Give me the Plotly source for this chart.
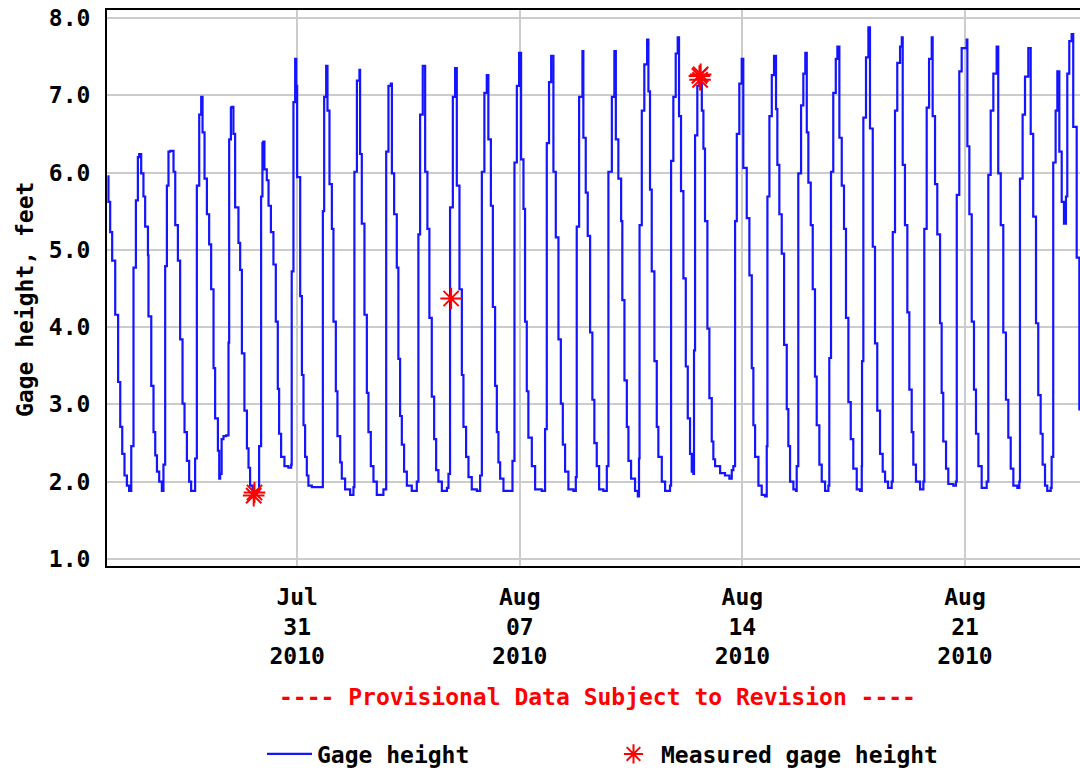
import pandas as pd
import plotly.graph_objects as go

# ---------------- data ----------------
START = "2010-07-25 00:00"

# hours since START for each gage reading (stair-step vertices)
hours = [
    0.9, 1.6, 2.9, 4.4, 6.7, 8.9, 10.5, 12.0, 13.7, 15.5, 17.2, 18.8, 20.5, 22.3, 23.8, 24.8,
    26.3, 28.0, 29.3, 31.4, 31.8, 33.9, 35.6, 36.9, 38.2, 39.9, 41.9, 43.1, 44.4, 45.7, 46.9, 48.2,
    50.7, 52.0, 54.0, 55.7, 57.5, 59.0, 60.8, 62.5, 64.0, 65.8, 67.0, 68.3, 70.1, 71.6,
    72.6, 74.1, 75.9, 77.6, 79.1, 80.9, 82.1, 84.2, 85.2, 85.9, 87.0, 88.4, 90.4, 92.2, 92.7, 94.0, 94.7,
    95.9, 97.2, 99.7, 101.0, 102.3, 104.2, 106.1, 107.3, 108.5, 110.4, 113.8, 115.3, 116.8, 117.8, 118.4,
    119.3, 121.1, 122.4, 124.2, 126.1, 127.9, 129.4, 130.4, 131.9, 134.4, 137.4, 139.5, 139.9, 141.2, 142.5,
    143.3, 144.0, 146.3, 147.6, 148.8, 150.0, 151.3, 152.5, 155.1, 162.6, 163.4, 164.4, 165.9,
    166.9, 168.4, 170.2, 171.4, 173.2, 174.4, 176.5, 177.7, 180.2, 184.0, 186.5, 187.2, 189.1, 191.0,
    191.5, 192.8, 194.8, 196.6, 197.8, 199.6, 201.6, 204.1, 209.1, 211.2, 212.9, 214.7,
    215.5, 217.2, 219.2, 220.4, 221.7, 223.0, 224.7, 226.8, 230.5, 234.3, 235.5, 236.8, 238.8,
    240.6, 242.3, 243.8, 245.6, 247.4, 248.9, 250.6, 253.2, 257.0, 258.2, 259.4, 261.5, 263.2,
    264.5, 266.5, 268.3, 269.5, 271.5, 273.3, 275.8, 279.6, 282.1, 283.4, 285.3, 287.1,
    288.3, 290.2, 291.7, 293.4, 294.7, 295.9, 297.2, 299.7, 304.7, 306.5, 308.0, 309.8, 311.5,
    313.0, 314.8, 316.0, 317.3, 318.5, 321.1, 323.6, 328.6, 331.1, 332.4, 334.1, 335.7,
    337.4, 339.2, 341.2, 343.0, 344.5, 346.2, 348.7, 352.5, 354.3, 355.0, 356.8, 359.3,
    360.0, 361.8, 363.3, 365.1, 366.8, 368.3, 370.1, 371.9, 375.1, 377.7, 378.9, 381.5, 383.4,
    384.5, 386.4, 388.5, 389.4, 391.0, 392.8, 394.0, 396.0, 399.0, 401.1, 402.0, 402.4, 404.1, 406.0, 408.1,
    409.1, 410.3, 411.6, 413.6, 415.4, 416.6, 419.2, 421.7, 425.4, 426.2, 427.9, 429.7, 431.2,
    432.2, 433.7, 435.5, 437.3, 438.8, 440.5, 441.8, 442.4, 443.0, 443.5, 444.3, 446.0, 447.5,
    449.4, 450.6, 451.8, 453.6, 455.1, 456.9, 458.1, 459.4, 463.2, 466.9, 470.2, 472.0, 473.2, 474.5, 475.8, 477.7, 479.5,
    480.7, 483.3, 485.3, 487.1, 488.3, 489.6, 492.1, 494.6, 497.1, 498.4, 498.9, 500.4, 502.2, 503.9,
    505.4, 506.4, 507.9, 509.7, 511.5, 513.5, 514.7, 516.0, 518.5, 520.5, 521.0, 522.2, 524.3, 526.0, 527.5,
    528.6, 529.8, 531.6, 533.1, 534.8, 536.1, 538.1, 539.9, 542.4, 544.9, 545.6, 546.9, 548.6, 550.5, 551.7,
    553.2, 555.0, 556.7, 558.2, 560.0, 561.8, 563.7, 566.3, 568.8, 570.1, 570.3, 571.3, 573.3, 575.1,
    576.3, 578.4, 580.1, 581.8, 583.9, 585.9, 587.7, 589.9, 592.7, 593.5, 595.2, 596.9, 599.0, 600.3,
    601.0, 602.7, 604.5, 606.0, 607.8, 609.0, 611.0, 614.1, 616.6, 617.3, 619.1, 620.9, 622.9,
    623.6, 625.4, 627.1, 629.2, 630.4, 631.6, 633.7, 635.4, 639.2, 641.2, 641.8, 643.7, 645.5, 649.3,
    649.8, 651.3, 653.1, 654.8, 656.3, 658.1, 660.6, 664.4, 665.6, 667.4, 669.4, 671.9,
    673.1, 675.0, 676.9, 678.9, 680.7, 682.5, 684.5, 687.5, 689.0, 689.5, 691.5, 693.3, 695.8,
    697.6, 699.5, 701.6, 703.3, 705.1, 706.6, 708.4, 710.1, 712.7, 713.4, 714.6, 716.4, 717.7,
    719.2, 721.0, 722.7, 724.2, 725.2, 726.7, 728.5, 729.7, 732.3, 734.3,
]

# gage height, feet
gage_ft = [
    5.95, 5.62, 5.23, 4.86, 4.16, 3.29, 2.71, 2.36, 2.08, 1.95, 1.88, 2.46, 4.77, 5.64, 6.20, 6.24,
    5.99, 5.69, 5.30, 4.93, 4.14, 3.24, 2.64, 2.34, 2.13, 2.00, 1.88, 2.22, 4.79, 5.83, 6.27, 6.28,
    6.01, 5.32, 4.86, 3.84, 3.01, 2.64, 2.27, 2.00, 1.88, 1.88, 2.30, 5.83, 6.75, 6.98,
    6.52, 5.92, 5.46, 5.07, 4.49, 3.47, 2.82, 2.40, 2.04, 2.10, 2.55, 2.59, 2.60, 3.80, 6.43, 6.84, 6.85,
    6.50, 5.55, 5.09, 4.74, 3.66, 2.92, 2.43, 2.18, 1.95, 1.85, 1.88, 2.46, 5.69, 6.38, 6.40,
    6.04, 5.90, 5.57, 5.23, 4.81, 4.07, 3.20, 2.62, 2.32, 2.20, 2.18, 2.22, 4.72, 6.91, 7.47,
    7.12, 5.94, 4.40, 3.38, 2.73, 2.32, 2.08, 1.95, 1.93, 1.93, 5.50, 6.98, 7.38,
    6.80, 5.85, 5.27, 4.07, 3.17, 2.59, 2.25, 2.04, 1.90, 1.83, 1.93, 6.01, 7.19, 7.33,
    6.24, 5.34, 4.16, 3.15, 2.64, 2.20, 2.00, 1.83, 1.90, 6.27, 7.12, 7.15,
    5.99, 5.46, 4.77, 3.59, 2.85, 2.48, 2.13, 1.95, 1.88, 2.00, 5.20, 6.75, 7.38,
    6.01, 5.27, 4.12, 3.10, 2.55, 2.15, 2.00, 1.88, 1.92, 2.10, 5.55, 6.98, 7.35,
    5.83, 4.49, 3.38, 2.71, 2.32, 2.06, 1.90, 1.88, 2.08, 6.01, 7.03, 7.26,
    6.43, 5.57, 4.26, 3.24, 2.64, 2.25, 2.04, 1.88, 1.88, 2.27, 6.13, 7.12, 7.55,
    6.17, 5.53, 4.07, 3.17, 2.57, 2.20, 1.90, 1.88, 2.68, 6.38, 7.17, 7.51,
    6.01, 5.16, 3.84, 3.01, 2.48, 2.13, 1.90, 1.88, 2.06, 5.30, 6.98, 7.57,
    6.45, 5.74, 5.18, 3.93, 3.06, 2.50, 2.20, 1.90, 1.88, 2.20, 6.01, 6.98, 7.57,
    6.43, 5.92, 5.37, 4.35, 3.31, 2.71, 2.27, 2.04, 1.88, 1.81, 2.30, 5.32, 6.80, 7.40, 7.72,
    7.05, 5.78, 4.72, 3.56, 2.71, 2.32, 2.00, 1.88, 1.95, 6.15, 6.98, 7.54, 7.75,
    6.73, 5.76, 4.63, 3.49, 2.82, 2.36, 2.13, 2.36, 2.10, 3.70, 6.48, 7.12, 7.20,
    6.80, 6.31, 5.37, 3.98, 3.08, 2.52, 2.29, 2.20, 2.11, 2.08, 2.04, 2.15, 2.20, 5.37, 6.50, 7.15, 7.47,
    6.06, 5.41, 4.67, 3.47, 2.73, 2.32, 1.95, 1.83, 1.81, 2.46, 5.69, 6.73, 7.26, 7.51,
    6.82, 6.10, 5.46, 4.95, 3.77, 2.94, 2.46, 2.00, 1.90, 1.88, 2.20, 5.99, 6.87, 7.28, 7.55,
    6.52, 5.87, 5.32, 4.49, 3.36, 2.73, 2.22, 2.00, 1.88, 1.95, 3.60, 6.01, 7.03, 7.47, 7.63,
    6.45, 5.83, 5.27, 4.12, 3.03, 2.55, 2.17, 1.90, 1.88, 2.20, 3.56, 6.71, 7.49, 7.88,
    6.57, 5.04, 3.79, 2.92, 2.36, 2.13, 2.00, 1.92, 2.00, 5.23, 6.80, 7.42, 7.63, 7.75,
    6.10, 5.32, 4.19, 3.19, 2.64, 2.22, 2.00, 1.90, 2.00, 5.27, 6.84, 7.47, 7.75,
    6.73, 5.85, 5.20, 4.05, 3.15, 2.52, 2.17, 1.97, 1.95, 2.00, 5.71, 7.31, 7.61, 7.72,
    6.34, 5.46, 4.07, 3.19, 2.62, 2.20, 1.92, 2.00, 5.97, 6.80, 7.28, 7.63,
    5.99, 5.32, 3.93, 3.06, 2.57, 2.17, 1.95, 1.92, 2.00, 5.92, 6.75, 7.24, 7.61,
    6.50, 5.43, 4.05, 3.12, 2.62, 2.22, 1.95, 1.88, 1.92, 2.32, 6.13, 6.80, 7.31,
    6.27, 5.62, 5.34, 5.69, 7.28, 7.70, 7.79, 6.59, 4.90, 2.92,
]

# measured gage heights (field measurements)
measured_hours = [111.2, 111.8, 260.2, 447.6, 448.1, 448.5]
measured_ft = [1.82, 1.86, 4.37, 7.25, 7.20, 7.27]

tick_dates = ["2010-07-31", "2010-08-07", "2010-08-14", "2010-08-21"]
tick_labels = ["Jul<br>31<br>2010", "Aug<br>07<br>2010", "Aug<br>14<br>2010", "Aug<br>21<br>2010"]
y_ticks = [1, 2, 3, 4, 5, 6, 7, 8]
y_tick_labels = ["1.0", "2.0", "3.0", "4.0", "5.0", "6.0", "7.0", "8.0"]

x_range_hours = [0.5, 734.8]
y_range = [0.909, 8.103]

# ---------------- figure ----------------
t0 = pd.Timestamp(START)
times = [t0 + pd.Timedelta(hours=h) for h in hours]
mtimes = [t0 + pd.Timedelta(hours=h) for h in measured_hours]

FONT = "DejaVu Sans Mono"
FS = 23

fig = go.Figure()
fig.add_trace(go.Scatter(
    x=times, y=gage_ft, mode="lines", name="Gage height",
    line=dict(color="#1414ff", width=2.2, shape="hv"),
))
fig.add_trace(go.Scatter(
    x=mtimes, y=measured_ft, mode="markers", name="Measured gage height",
    marker=dict(symbol="asterisk-open", size=18, color="#ff0000",
                line=dict(color="#ff0000", width=2)),
))

W, H = 1080, 770
L, R, T, B = 107, 0, 10, 204
pw, ph = W - L - R, H - T - B

def px(x):
    return (x - L) / pw

def py(y):
    return (H - B - y) / ph

fig.update_layout(
    width=W, height=H,
    margin=dict(l=L, r=R, t=T, b=B, pad=0, autoexpand=False),
    plot_bgcolor="white", paper_bgcolor="white",
    font=dict(family=FONT, size=FS, color="black", weight="bold"),
    showlegend=True,
    legend=dict(
        orientation="h", xref="container", x=262 / W, xanchor="left",
        yref="container", y=1 - 754 / H, yanchor="middle",
        font=dict(family=FONT, size=FS, color="black", weight="bold"),
        entrywidth=284, entrywidthmode="pixels",
        bgcolor="rgba(0,0,0,0)", itemwidth=45,
    ),
    xaxis=dict(
        type="date", automargin=False,
        range=[t0 + pd.Timedelta(hours=x_range_hours[0]), t0 + pd.Timedelta(hours=x_range_hours[1])],
        tickmode="array", tickvals=[pd.Timestamp(d) for d in tick_dates], ticktext=tick_labels,
        showgrid=True, gridcolor="#cccccc", gridwidth=2,
        showline=True, linecolor="black", linewidth=2, mirror=True,
        ticks="", ticklabelstandoff=9, zeroline=False,
        tickfont=dict(family=FONT, size=FS, color="black", weight="bold"),
    ),
    yaxis=dict(
        range=y_range, automargin=False,
        tickmode="array", tickvals=y_ticks, ticktext=y_tick_labels,
        showgrid=True, gridcolor="#cccccc", gridwidth=2,
        showline=True, linecolor="black", linewidth=2, mirror=False,
        ticks="", ticklabelstandoff=10, zeroline=False,
        tickfont=dict(family=FONT, size=FS, color="black", weight="bold"),
    ),
    annotations=[
        dict(text="Gage height, feet", textangle=-90, xref="paper", yref="paper",
             x=px(25), y=py(300), xanchor="center", yanchor="middle", showarrow=False,
             font=dict(family=FONT, size=FS, color="black", weight="bold")),
        dict(text="---- Provisional Data Subject to Revision ----", xref="paper", yref="paper",
             x=px(597), y=py(697), xanchor="center", yanchor="middle", showarrow=False,
             font=dict(family=FONT, size=FS, color="#ff0000", weight="bold")),
    ],
)

fig.write_html("out.html")
